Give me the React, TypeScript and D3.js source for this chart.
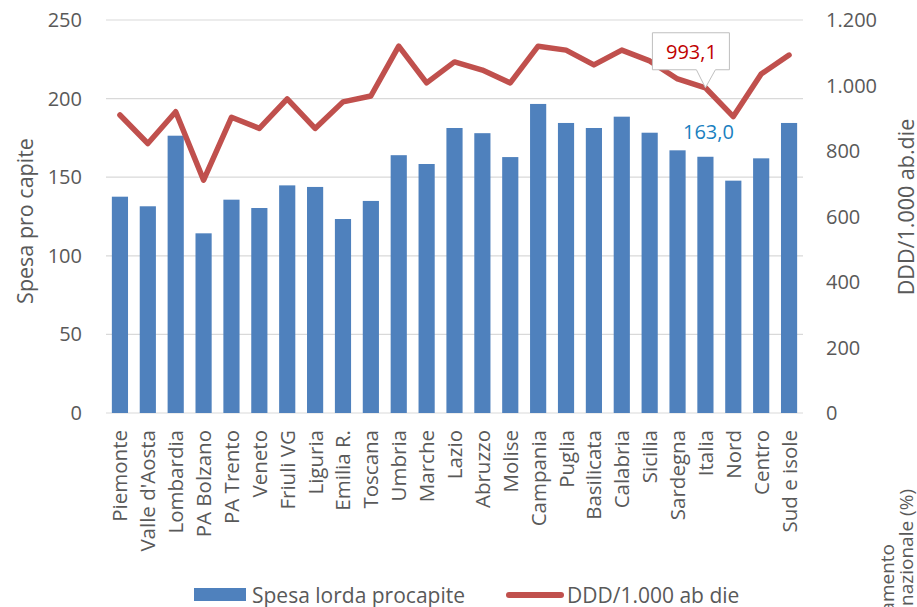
import React from "react";
import * as d3 from "d3";

const regions = [
  "Piemonte", "Valle d'Aosta", "Lombardia", "PA Bolzano", "PA Trento", "Veneto",
  "Friuli VG", "Liguria", "Emilia R.", "Toscana", "Umbria", "Marche", "Lazio",
  "Abruzzo", "Molise", "Campania", "Puglia", "Basilicata", "Calabria", "Sicilia",
  "Sardegna", "Italia", "Nord", "Centro", "Sud e isole",
];

// spesa lorda pro capite (left axis)
const spesa = [
  137.6, 131.5, 176.4, 114.3, 135.7, 130.4, 144.8, 143.8, 123.4, 134.9, 164.0, 158.4, 181.3,
  178.0, 162.8, 196.6, 184.5, 181.3, 188.5, 178.3, 167.1, 163.0, 147.8, 162.0, 184.5,
];

// DDD/1.000 ab die (right axis)
const ddd = [
  910, 823, 920, 711, 903, 869, 959, 869, 950, 968, 1120, 1008, 1072,
  1047, 1008, 1120, 1108, 1063, 1108, 1075, 1020, 993.1, 905, 1035, 1093,
];

const leftTicks = [0, 50, 100, 150, 200, 250];
const rightTicks = [0, 200, 400, 600, 800, 1000, 1200];

const W = 917, H = 607;
const m = { left: 106, right: 803, top: 20, bottom: 413 };
const FONT = "'Open Sans', sans-serif";
const GREY = "#595959";
const fmtIt = (v: number) => d3.format(",")(v).replace(/,/g, ".");

export default function App() {
  const x = d3.scaleBand().domain(regions).range([m.left, m.right]).paddingInner(0.42).paddingOuter(0.21);
  const yL = d3.scaleLinear().domain([0, 250]).range([m.bottom, m.top]);
  const yR = d3.scaleLinear().domain([0, 1200]).range([m.bottom, m.top]);
  const cx = (r: string) => (x(r) ?? 0) + x.bandwidth() / 2;

  const line = d3.line<number>()
    .x((_, i) => cx(regions[i]))
    .y((d) => yR(d));

  const iIt = regions.indexOf("Italia");
  const px = cx("Italia");
  const py = yR(ddd[iIt]);

  return (
    <svg width={W} height={H} style={{ position: "absolute", left: 0, top: 0, background: "#fff" }} fontFamily={FONT}>
      {leftTicks.map((t) => (
        <g key={t}>
          <line x1={m.left} x2={m.right} y1={yL(t)} y2={yL(t)} stroke="#d9d9d9" strokeWidth={1.2} />
          <text x={82} y={yL(t) + 7} textAnchor="end" fontSize={20} fill={GREY}>{t}</text>
        </g>
      ))}
      {rightTicks.map((t) => (
        <text key={t} x={826} y={yR(t) + 7} fontSize={20} fill={GREY}>{fmtIt(t)}</text>
      ))}

      {regions.map((r, i) => (
        <rect key={r} x={x(r)} y={yL(spesa[i])} width={x.bandwidth()} height={yL(0) - yL(spesa[i])} fill="#4F81BD" />
      ))}

      <path d={line(ddd) ?? ""} fill="none" stroke="#C0504D" strokeWidth={5.5} strokeLinejoin="round" strokeLinecap="round" />

      {regions.map((r) => (
        <text key={r} transform={`translate(${cx(r) + 7.5},${m.bottom + 17}) rotate(-90)`} textAnchor="end" fontSize={20.5} fill={GREY}>{r}</text>
      ))}

      {/* callout for Italia DDD */}
      <path
        d={`M${px - 53},${py - 55} H${px + 24} V${py - 18} H${px + 10} L${px},${py} L${px - 9},${py - 18} H${px - 53} Z`}
        fill="#fff" stroke="#bfbfbf" strokeWidth={1}
      />
      <text x={px - 14} y={py - 29} textAnchor="middle" fontSize={20} fill="#C00000">{ddd[iIt].toFixed(1).replace(".", ",")}</text>
      <text x={px + 3} y={yL(spesa[iIt]) - 18} textAnchor="middle" fontSize={20} fill="#1a7fc0">{spesa[iIt].toFixed(1).replace(".", ",")}</text>

      <text transform={`translate(33,221) rotate(-90)`} textAnchor="middle" fontSize={21.5} fill={GREY}>Spesa pro capite</text>
      <text transform={`translate(914,207) rotate(-90)`} textAnchor="middle" fontSize={21.5} fill={GREY}>DDD/1.000 ab.die</text>
      <text transform={`translate(894,544) rotate(-90)`} textAnchor="end" fontSize={19} fill={GREY}>amento</text>
      <text transform={`translate(913,489) rotate(-90)`} textAnchor="end" fontSize={19} fill={GREY}>nazionale (%)</text>

      <rect x={194} y={588} width={52} height={13} fill="#4F81BD" />
      <text x={252} y={603} fontSize={21} fill={GREY}>Spesa lorda procapite</text>
      <line x1={509} x2={561} y1={595} y2={595} stroke="#C0504D" strokeWidth={6} strokeLinecap="round" />
      <text x={567} y={603} fontSize={21} fill={GREY}>DDD/1.000 ab die</text>
    </svg>
  );
}
